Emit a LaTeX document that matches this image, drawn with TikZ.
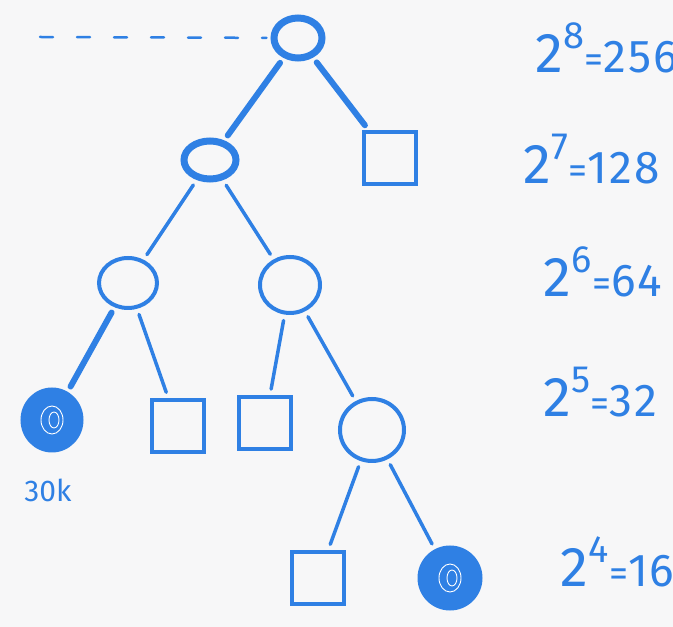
\documentclass[tikz,border=0pt]{standalone}
\usepackage{fontspec}
\setmainfont{Fira Sans}
\usetikzlibrary{shapes.geometric}
\definecolor{pen}{HTML}{2F80E4}
\definecolor{paper}{HTML}{F7F7F8}
\tikzset{
  ring/.style={ellipse, draw=pen, line width=4pt, inner sep=0pt},
  thickring/.style={ring, line width=7pt},
  leafbox/.style={rectangle, draw=pen, line width=4pt, minimum size=52pt, inner sep=0pt},
  dot/.style={ellipse, draw=pen, fill=pen, line width=3pt, inner sep=0pt,
    path picture={\draw[white, line width=0.9pt] (path picture bounding box.center) ellipse (11pt and 14pt);
      \draw[white, line width=0.9pt] ([xshift=2pt]path picture bounding box.center) ellipse (5pt and 8pt);}},
  edge/.style={draw=pen, line width=3.5pt, line cap=round, shorten <=6pt, shorten >=6pt},
  thickedge/.style={edge, line width=6pt},
  power/.style={text=pen, anchor=base west, inner sep=0pt},
  note/.style={text=pen, font=\fontsize{30}{30}\selectfont, inner sep=0pt}
}
\newcommand{\pw}[2]{{\fontsize{56}{56}\selectfont 2}\hspace{1pt}\raisebox{24pt}{\fontsize{38}{38}\selectfont #1}{\fontsize{38}{38}\selectfont =}{\fontsize{46}{46}\selectfont\addfontfeature{LetterSpace=4} #2}}

\begin{document}
\begin{tikzpicture}[x=1pt,y=1pt]
\useasboundingbox (0,0) rectangle (673,627);
\fill[paper] (0,0) rectangle (673,627);
\clip (0,0) rectangle (673,627);

% tree nodes
\node[thickring, minimum width=48pt, minimum height=40pt] (root) at (298,589) {};
\node[leafbox] (top leaf) at (390,469) {};
\node[thickring, minimum width=52pt, minimum height=38pt] (left) at (210,467) {};
\node[ring, minimum width=58pt, minimum height=50pt] (a) at (128,344) {};
\node[ring, minimum width=60pt, minimum height=56pt] (b) at (290,342) {};
\node[dot, minimum width=60pt, minimum height=62pt] (hit a) at (52,207) {};
\node[leafbox] (leaf a) at (178,201) {};
\node[leafbox] (leaf b) at (265,204) {};
\node[ring, minimum width=64pt, minimum height=62pt] (c) at (372,197) {};
\node[leafbox] (leaf c) at (318,49) {};
\node[dot, minimum width=62pt, minimum height=62pt] (hit c) at (450,49) {};

\node[note] (count) at (48,137) {30k};

% connectors
\coordinate (start) at (40,590);
\draw[draw=pen, line width=2.5pt, dash pattern=on 13pt off 24pt, line cap=round, shorten >=4pt] (start) -- (root);
\draw[thickedge] (root) -- (left);
\draw[thickedge] (root) -- (top leaf);
\draw[edge] (left) -- (a);
\draw[edge] (left) -- (b);
\draw[thickedge] (a) -- (hit a);
\draw[edge] (a) -- (leaf a);
\draw[edge] (b) -- (leaf b);
\draw[edge] (b) -- (c);
\draw[edge] (c) -- (leaf c);
\draw[edge] (c) -- (hit c);

% level sizes
\node[power] (p8) at (535,554) {\pw{8}{256}};
\node[power] (p7) at (523,443) {\pw{7}{128}};
\node[power] (p6) at (543,330) {\pw{6}{64}};
\node[power] (p5) at (543,210) {\pw{5}{32}};
\node[power] (p4) at (560,40) {\pw{4}{16}};
\end{tikzpicture}
\end{document}
